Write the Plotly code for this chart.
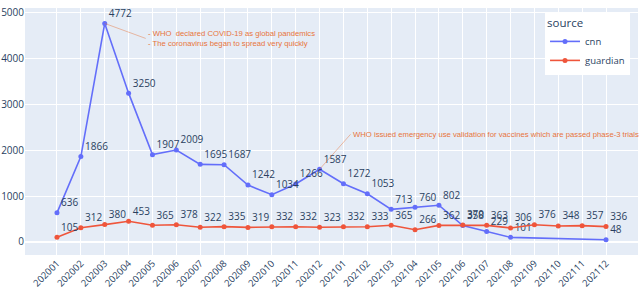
import plotly.graph_objects as go

months = ["202001", "202002", "202003", "202004", "202005", "202006", "202007", "202008",
          "202009", "202010", "202011", "202012", "202101", "202102", "202103", "202104",
          "202105", "202106", "202107", "202108", "202109", "202110", "202111", "202112"]

cnn_months = ["202001", "202002", "202003", "202004", "202005", "202006", "202007", "202008",
              "202009", "202010", "202011", "202012", "202101", "202102", "202103", "202104",
              "202105", "202106", "202107", "202108", "202112"]
cnn_values = [636, 1866, 4772, 3250, 1907, 2009, 1695, 1687, 1242, 1034, 1266, 1587,
              1272, 1053, 713, 760, 802, 358, 229, 101, 48]

guardian_months = months
guardian_values = [105, 312, 380, 453, 365, 378, 322, 335, 319, 332, 332, 323,
                   332, 333, 365, 266, 362, 370, 363, 306, 376, 348, 357, 336]

fig = go.Figure()
fig.add_trace(go.Scatter(x=cnn_months, y=cnn_values, name="cnn", mode="lines+markers+text",
                         text=[str(v) for v in cnn_values], textposition="top right",
                         line=dict(color="#636efa", width=1.6), marker=dict(size=5),
                         textfont=dict(size=10, color="#2a3f5f")))
fig.add_trace(go.Scatter(x=guardian_months, y=guardian_values, name="guardian", mode="lines+markers+text",
                         text=[str(v) for v in guardian_values], textposition="top right",
                         line=dict(color="#EF553B", width=1.6), marker=dict(size=5),
                         textfont=dict(size=10, color="#2a3f5f")))

ann_color = "#E8743B"
ann_font = "Liberation Sans Narrow, Arial Narrow, Liberation Sans, sans-serif"
i1 = months.index("202003")
i2 = months.index("202012")
fig.add_annotation(x=i1, y=cnn_values[cnn_months.index("202003")], xref="x", yref="y",
                   text="- WHO  declared COVID-19 as global pandemics<br>- The coronavirus began to spread very quickly",
                   showarrow=True, arrowhead=0, arrowwidth=1, arrowcolor="rgba(232,116,59,0.45)",
                   ax=41, ay=15, xanchor="left", yanchor="middle", align="left",
                   font=dict(size=7.7, color=ann_color, family=ann_font))
fig.add_annotation(x=i2, y=cnn_values[cnn_months.index("202012")], xref="x", yref="y",
                   text="WHO issued emergency use validation for vaccines which are passed phase-3 trials",
                   showarrow=True, arrowhead=0, arrowwidth=1, arrowcolor="rgba(232,116,59,0.45)",
                   ax=31, ay=-35, xanchor="left", yanchor="middle", align="left",
                   font=dict(size=7.7, color=ann_color, family=ann_font))

fig.update_layout(
    width=640, height=289,
    margin=dict(l=25, r=2, t=8, b=34),
    template="plotly",
    font=dict(size=10),
    legend=dict(title=dict(text="source", font=dict(size=11.5)), x=0.987, y=0.984,
                xanchor="right", yanchor="top", bgcolor="white", font=dict(size=9.5),
                itemwidth=30, tracegroupgap=0),
    xaxis=dict(type="category", categoryorder="array", categoryarray=months,
               range=[-1.34, 24.34], tickangle=-45, automargin=False,
               tickfont=dict(size=9.5)),
    yaxis=dict(range=[-284, 5109], automargin=False, tickvals=[0, 1000, 2000, 3000, 4000, 5000],
               tickfont=dict(size=10)),
)

fig.write_html("out.html", config={"displayModeBar": False},
               post_script="document.body.style.margin='0';")
